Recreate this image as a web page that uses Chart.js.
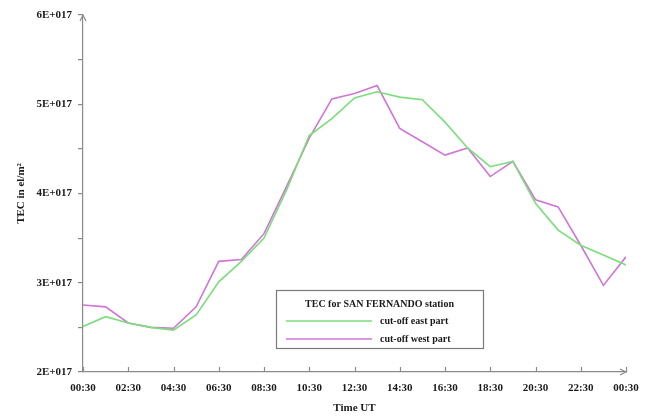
<!DOCTYPE html>
<html>
<head>
<meta charset="utf-8">
<script src="https://cdn.jsdelivr.net/npm/chart.js@4/dist/chart.umd.min.js"></script>
<style>
  html, body { margin: 0; padding: 0; background: #ffffff; }
  #wrap { width: 650px; height: 419px; }
</style>
</head>
<body>
<div id="wrap"><canvas id="c" width="650" height="419"></canvas></div>
<script>
// Hours after 00:30 UT, one sample per hour over a full day
const hours = [0, 1, 2, 3, 4, 5, 6, 7, 8, 9, 10, 11, 12, 13, 14, 15, 16, 17, 18, 19, 20, 21, 22, 23, 24];

// Tick labels on the time axis, every two hours
const timeLabels = ['00:30', '02:30', '04:30', '06:30', '08:30', '10:30', '12:30',
                    '14:30', '16:30', '18:30', '20:30', '22:30', '00:30'];

// Major tick values on the TEC axis (units of 1E+017 el/m²)
const tecTicks = [2, 3, 4, 5, 6];

// TEC (×1E+017 el/m²) for the two cut-off parts
const eastPart = [2.51, 2.62, 2.55, 2.50, 2.47, 2.64, 3.01, 3.24, 3.50, 4.04, 4.65, 4.84, 5.07,
                  5.14, 5.08, 5.05, 4.80, 4.51, 4.30, 4.36, 3.89, 3.59, 3.42, 3.31, 3.20];
const westPart = [2.75, 2.73, 2.55, 2.50, 2.49, 2.73, 3.24, 3.26, 3.55, 4.08, 4.62, 5.06, 5.12,
                  5.21, 4.73, 4.58, 4.43, 4.51, 4.19, 4.36, 3.93, 3.85, 3.42, 2.97, 3.29];

const seriesNames = ['cut-off east part', 'cut-off west part'];
const legendTitle = 'TEC for SAN FERNANDO station';

const AXIS_COLOR = '#8a8a8a';
const TEXT_COLOR = '#1a1a1a';
const EAST_COLOR = '#7ade7a';
const WEST_COLOR = '#d274d6';
const FONT_FAMILY = '"Liberation Serif", "Times New Roman", serif';

// Axis ends with arrowheads, inward ticks on the time axis, and the boxed legend
const decorations = {
  id: 'decorations',
  afterDraw(chart) {
    const { ctx, chartArea, scales } = chart;
    const xs = scales.x;
    ctx.save();
    ctx.strokeStyle = AXIS_COLOR;
    ctx.lineWidth = 1.2;

    // time-axis ticks pointing up into the plot
    for (let v = 0; v <= 24; v += 2) {
      const px = Math.round(xs.getPixelForValue(v)) + 0.5;
      ctx.beginPath();
      ctx.moveTo(px, chartArea.bottom);
      ctx.lineTo(px, chartArea.bottom - 5);
      ctx.stroke();
    }

    // arrowhead at the top of the TEC axis
    const ax = chartArea.left, ay = chartArea.top;
    ctx.beginPath();
    ctx.moveTo(ax - 3, ay + 6);
    ctx.lineTo(ax, ay);
    ctx.lineTo(ax + 3, ay + 6);
    ctx.stroke();

    // arrowhead at the right end of the time axis
    const bx = chartArea.right, by = chartArea.bottom;
    ctx.beginPath();
    ctx.moveTo(bx - 6, by - 3);
    ctx.lineTo(bx, by);
    ctx.lineTo(bx - 6, by + 3);
    ctx.stroke();

    // legend box
    const lx = 276, ly = 290, lw = 207, lh = 58;
    ctx.fillStyle = '#ffffff';
    ctx.fillRect(lx, ly, lw, lh);
    ctx.strokeStyle = '#7a7a7a';
    ctx.lineWidth = 1.2;
    ctx.strokeRect(lx + 0.5, ly + 0.5, lw, lh);

    ctx.fillStyle = TEXT_COLOR;
    ctx.font = 'bold 10px ' + FONT_FAMILY;
    ctx.textBaseline = 'middle';
    ctx.textAlign = 'center';
    ctx.fillText(legendTitle, lx + lw / 2, ly + 14);

    chart.data.datasets.forEach((ds, i) => {
      const rowY = ly + 31 + i * 18;
      ctx.strokeStyle = ds.borderColor;
      ctx.lineWidth = 1.5;
      ctx.beginPath();
      ctx.moveTo(lx + 10, rowY);
      ctx.lineTo(lx + 96, rowY);
      ctx.stroke();
      ctx.fillStyle = TEXT_COLOR;
      ctx.textAlign = 'left';
      ctx.fillText(ds.label, lx + 104, rowY);
    });
    ctx.restore();
  }
};

const tickFont = { family: FONT_FAMILY, size: 11, weight: 'bold' };

new Chart(document.getElementById('c'), {
  type: 'line',
  data: {
    datasets: [
      {
        label: seriesNames[0],
        data: hours.map((h, i) => ({ x: h, y: eastPart[i] })),
        borderColor: EAST_COLOR,
        borderWidth: 1.6,
        pointRadius: 0,
        tension: 0,
        fill: false
      },
      {
        label: seriesNames[1],
        data: hours.map((h, i) => ({ x: h, y: westPart[i] })),
        borderColor: WEST_COLOR,
        borderWidth: 1.6,
        pointRadius: 0,
        tension: 0,
        fill: false
      }
    ]
  },
  options: {
    responsive: false,
    animation: false,
    devicePixelRatio: 1,
    layout: { padding: { left: 0, right: 24, top: 15, bottom: 0 } },
    plugins: {
      legend: { display: false },
      tooltip: { enabled: false }
    },
    scales: {
      x: {
        type: 'linear',
        min: 0,
        max: 24,
        afterFit(scale) { scale.height = 47; },
        afterBuildTicks(scale) {
          scale.ticks = timeLabels.map((_, i) => ({ value: i * 2 }));
        },
        ticks: {
          autoSkip: false,
          maxRotation: 0,
          padding: 10,
          color: TEXT_COLOR,
          font: tickFont,
          callback: (v) => timeLabels[v / 2]
        },
        grid: { drawOnChartArea: false, drawTicks: false },
        border: { display: true, color: AXIS_COLOR, width: 1.2 },
        title: {
          display: true,
          text: 'Time UT',
          color: TEXT_COLOR,
          font: tickFont,
          padding: { top: 0, bottom: 4 }
        }
      },
      y: {
        type: 'linear',
        min: 2,
        max: 6,
        afterFit(scale) { scale.width = 83; },
        afterBuildTicks(scale) {
          const t = [];
          tecTicks.forEach((v, i) => {
            t.push({ value: v });
            if (i < tecTicks.length - 1) t.push({ value: v + 0.5 });
          });
          scale.ticks = t;
        },
        ticks: {
          padding: 6,
          color: TEXT_COLOR,
          font: tickFont,
          callback: (v) => (tecTicks.includes(v) ? v + 'E+017' : '')
        },
        grid: {
          drawOnChartArea: false,
          drawTicks: true,
          tickLength: 5,
          color: AXIS_COLOR,
          lineWidth: 1.2
        },
        border: { display: true, color: AXIS_COLOR, width: 1.2 },
        title: {
          display: true,
          text: 'TEC in el/m²',
          color: TEXT_COLOR,
          font: tickFont,
          padding: { top: 15, bottom: 0 }
        }
      }
    }
  },
  plugins: [decorations]
});
</script>
</body>
</html>
